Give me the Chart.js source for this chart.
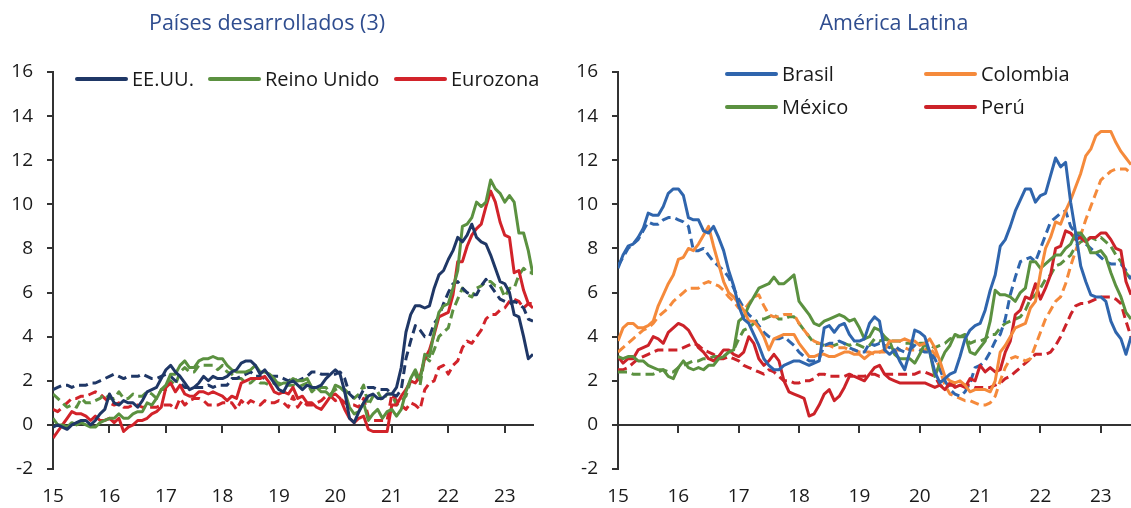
<!DOCTYPE html>
<html lang="es">
<head>
<meta charset="UTF-8">
<title>Inflación</title>
<script src="https://cdn.jsdelivr.net/npm/chart.js"></script>
<style>
  body { margin: 0; background: #fff; font-family: 'Open Sans', sans-serif; }
  #wrap { position: relative; width: 1131px; height: 508px; overflow: hidden; }
  canvas { position: absolute; top: 0; }
  .titulo { position: absolute; top: 7px; font-size: 21.5px; line-height: 30px; color: #2F4D8F; text-align: center; white-space: nowrap; }
  .ley { position: absolute; font-size: 20px; line-height: 24px; color: #1a1a1a; white-space: nowrap; }
  .ley i { position: absolute; height: 4px; border-radius: 2px; top: 10px; }
</style>
</head>
<body>
<div id="wrap">
  <canvas id="izq" width="565" height="508" style="left:0"></canvas>
  <canvas id="der" width="566" height="508" style="left:565px"></canvas>
  <div class="titulo" style="left:117px;width:300px">Países desarrollados (3)</div>
  <div class="titulo" style="left:794px;width:200px">América Latina</div>
</div>

<script>
// Jan 2015 .. Jul 2023, monthly, % y/y. Solid = headline, dashed = core
const yearLabels = ['15', '16', '17', '18', '19', '20', '21', '22', '23'];
const yearTicks = [0, 12, 24, 36, 48, 60, 72, 84, 96];
const valueTicks = [-2, 0, 2, 4, 6, 8, 10, 12, 14, 16];

const usTotal = [
  -0.1, 0.0, -0.1, -0.2, 0.0, 0.1, 0.2, 0.2, 0.0, 0.2, 0.5, 0.7,
  1.4, 1.0, 0.9, 1.1, 1.0, 1.0, 0.8, 1.1, 1.5, 1.6, 1.7, 2.1,
  2.5, 2.7, 2.4, 2.2, 1.9, 1.6, 1.7, 1.9, 2.2, 2.0, 2.2, 2.1,
  2.1, 2.2, 2.4, 2.5, 2.8, 2.9, 2.9, 2.7, 2.3, 2.5, 2.2, 1.9,
  1.6, 1.5, 1.9, 2.0, 1.8, 1.6, 1.8, 1.7, 1.7, 1.8, 2.1, 2.3,
  2.5, 2.3, 1.5, 0.3, 0.1, 0.6, 1.0, 1.3, 1.4, 1.2, 1.2, 1.4,
  1.4, 1.7, 2.6, 4.2, 5.0, 5.4, 5.4, 5.3, 5.4, 6.2, 6.8, 7.0,
  7.5, 7.9, 8.5, 8.3, 8.6, 9.1, 8.5, 8.3, 8.2, 7.7, 7.1, 6.5,
  6.4, 6.0, 5.0, 4.9, 4.0, 3.0, 3.2
];
const usCore = [
  1.6, 1.7, 1.8, 1.8, 1.7, 1.8, 1.8, 1.8, 1.9, 1.9, 2.0, 2.1,
  2.2, 2.3, 2.2, 2.1, 2.2, 2.2, 2.2, 2.3, 2.2, 2.1, 2.1, 2.2,
  2.3, 2.2, 2.0, 1.9, 1.7, 1.7, 1.7, 1.7, 1.7, 1.8, 1.7, 1.8,
  1.8, 1.8, 2.1, 2.1, 2.2, 2.3, 2.4, 2.2, 2.2, 2.1, 2.2, 2.2,
  2.2, 2.1, 2.0, 2.1, 2.0, 2.1, 2.2, 2.4, 2.4, 2.3, 2.3, 2.3,
  2.3, 2.4, 2.1, 1.4, 1.2, 1.2, 1.6, 1.7, 1.7, 1.6, 1.6, 1.6,
  1.4, 1.3, 1.6, 3.0, 3.8, 4.5, 4.3, 4.0, 4.0, 4.6, 4.9, 5.5,
  6.0, 6.4, 6.5, 6.2, 6.0, 5.9, 5.9, 6.3, 6.6, 6.3, 6.0, 5.7,
  5.6, 5.5, 5.6, 5.5, 5.3, 4.8, 4.7
];
const ukTotal = [
  0.3, 0.0, 0.0, -0.1, 0.1, 0.0, 0.1, 0.0, -0.1, -0.1, 0.1, 0.2,
  0.3, 0.3, 0.5, 0.3, 0.3, 0.5, 0.6, 0.6, 1.0, 0.9, 1.2, 1.6,
  1.8, 2.3, 2.3, 2.7, 2.9, 2.6, 2.6, 2.9, 3.0, 3.0, 3.1, 3.0,
  3.0, 2.7, 2.5, 2.4, 2.4, 2.4, 2.5, 2.7, 2.4, 2.4, 2.3, 2.1,
  1.8, 1.9, 1.9, 2.1, 2.0, 2.0, 2.1, 1.7, 1.7, 1.5, 1.5, 1.3,
  1.8, 1.7, 1.5, 0.8, 0.5, 0.6, 1.0, 0.2, 0.5, 0.7, 0.3, 0.6,
  0.7, 0.4, 0.7, 1.5, 2.1, 2.5, 2.0, 3.2, 3.1, 4.2, 5.1, 5.4,
  5.5, 6.2, 7.0, 9.0, 9.1, 9.4, 10.1, 9.9, 10.1, 11.1, 10.7, 10.5,
  10.1, 10.4, 10.1, 8.7, 8.7, 7.9, 6.8
];
const ukCore = [
  1.4, 1.2, 1.0, 0.8, 0.9, 0.8, 1.2, 1.0, 1.0, 1.1, 1.2, 1.4,
  1.2, 1.2, 1.5, 1.2, 1.2, 1.4, 1.3, 1.3, 1.5, 1.4, 1.2, 1.6,
  1.6, 2.0, 1.8, 2.4, 2.6, 2.4, 2.4, 2.7, 2.7, 2.7, 2.7, 2.5,
  2.7, 2.4, 2.3, 2.1, 2.1, 1.9, 1.9, 2.1, 1.9, 1.9, 1.8, 1.9,
  1.9, 1.8, 1.8, 1.8, 1.7, 1.8, 1.9, 1.5, 1.7, 1.7, 1.7, 1.4,
  1.6, 1.7, 1.6, 1.4, 1.2, 1.4, 1.8, 0.9, 1.3, 1.5, 1.1, 1.4,
  1.4, 0.9, 1.1, 1.3, 2.0, 2.3, 1.8, 3.1, 2.9, 3.4, 4.0, 4.2,
  4.4, 5.2, 5.7, 6.2, 5.9, 5.8, 6.2, 6.3, 6.5, 6.5, 6.3, 6.3,
  5.8, 6.2, 6.2, 6.8, 7.1, 6.9, 6.9
];
const ezTotal = [
  -0.6, -0.3, 0.0, 0.3, 0.6, 0.5, 0.5, 0.4, 0.2, 0.4, 0.2, 0.2,
  0.3, 0.1, 0.3, -0.3, -0.1, 0.0, 0.2, 0.2, 0.3, 0.5, 0.6, 0.8,
  1.7, 1.9, 1.5, 1.8, 1.4, 1.3, 1.3, 1.5, 1.5, 1.4, 1.5, 1.4,
  1.3, 1.1, 1.3, 1.2, 1.9, 2.0, 2.1, 2.1, 2.1, 2.2, 1.9, 1.5,
  1.4, 1.5, 1.4, 1.7, 1.2, 1.3, 1.0, 1.0, 0.8, 0.7, 1.0, 1.3,
  1.4, 1.2, 0.7, 0.3, 0.1, 0.3, 0.4, -0.2, -0.3, -0.3, -0.3, -0.3,
  0.9, 0.9, 1.3, 1.6, 2.0, 1.9, 2.2, 3.0, 3.4, 4.1, 4.9, 5.0,
  5.1, 5.9, 7.4, 7.4, 8.1, 8.6, 8.9, 9.1, 9.9, 10.6, 10.1, 9.2,
  8.6, 8.5, 6.9, 7.0, 6.1, 5.5, 5.3
];
const ezCore = [
  0.7, 0.6, 0.8, 1.0, 1.2, 1.2, 1.3, 1.3, 1.4, 1.5, 1.4, 1.2,
  1.0, 0.9, 1.0, 0.8, 0.8, 0.9, 0.9, 0.8, 0.8, 0.8, 0.8, 0.9,
  0.9, 0.9, 0.7, 1.2, 0.9, 1.1, 1.2, 1.2, 1.1, 0.9, 0.9, 0.9,
  1.0, 1.0, 1.0, 0.7, 1.1, 0.9, 1.1, 1.0, 0.9, 1.1, 1.0, 1.0,
  1.1, 1.0, 0.8, 1.3, 0.8, 1.1, 0.9, 0.9, 1.0, 1.1, 1.3, 1.3,
  1.1, 1.2, 1.0, 0.9, 0.9, 0.8, 1.2, 0.4, 0.2, 0.2, 0.2, 0.2,
  1.4, 1.1, 0.9, 0.7, 1.0, 0.9, 0.7, 1.6, 1.9, 2.0, 2.6, 2.7,
  2.3, 2.7, 2.9, 3.5, 3.8, 3.7, 4.0, 4.3, 4.8, 5.0, 5.0, 5.2,
  5.3, 5.6, 5.7, 5.6, 5.3, 5.5, 5.5
];

const brTotal = [
  7.1, 7.7, 8.1, 8.2, 8.5, 8.9, 9.6, 9.5, 9.5, 9.9, 10.5, 10.7,
  10.7, 10.4, 9.4, 9.3, 9.3, 8.8, 8.7, 9.0, 8.5, 7.9, 7.0, 6.3,
  5.4, 4.8, 4.6, 4.1, 3.6, 3.0, 2.7, 2.5, 2.5, 2.7, 2.8, 2.9,
  2.9, 2.8, 2.7, 2.8, 2.9, 4.4, 4.5, 4.2, 4.5, 4.6, 4.1, 3.8,
  3.8, 3.9, 4.6, 4.9, 4.7, 3.4, 3.2, 3.4, 2.9, 2.5, 3.3, 4.3,
  4.2, 4.0, 3.3, 2.4, 1.9, 2.1, 2.3, 2.4, 3.1, 3.9, 4.3, 4.5,
  4.6, 5.2, 6.1, 6.8, 8.1, 8.4, 9.0, 9.7, 10.2, 10.7, 10.7, 10.1,
  10.4, 10.5, 11.3, 12.1, 11.7, 11.9, 10.1, 8.7, 7.2, 6.5, 5.9, 5.8,
  5.8, 5.6, 4.7, 4.2, 3.9, 3.2, 4.0
];
const brCore = [
  7.2, 7.6, 8.0, 8.2, 8.4, 8.8, 9.2, 9.1, 9.1, 9.3, 9.4, 9.4,
  9.3, 9.2, 9.0, 7.9, 7.9, 8.0, 7.7, 7.4, 7.2, 7.0, 6.7, 6.2,
  5.7, 5.3, 5.0, 4.8, 4.5, 4.2, 4.0, 3.9, 3.9, 4.0, 3.8, 3.6,
  3.3, 3.1, 2.9, 2.9, 3.0, 3.6, 3.7, 3.7, 3.8, 3.7, 3.5, 3.4,
  3.3, 3.3, 3.7, 3.6, 3.7, 3.6, 3.5, 3.6, 3.4, 3.3, 3.4, 3.6,
  3.4, 3.3, 3.3, 3.0, 2.5, 2.0, 1.6, 1.4, 1.3, 1.5, 1.9, 2.6,
  2.7, 2.9, 3.3, 3.8, 4.1, 4.8, 5.9, 6.7, 7.4, 7.5, 7.6, 7.4,
  8.0, 8.6, 9.2, 9.4, 9.6, 9.7, 9.0, 8.7, 8.5, 8.2, 8.0, 7.8,
  7.6, 7.4, 7.3, 7.3, 7.3, 7.0, 6.6
];
const coTotal = [
  3.8, 4.4, 4.6, 4.6, 4.4, 4.4, 4.5, 4.7, 5.4, 5.9, 6.4, 6.8,
  7.5, 7.6, 8.0, 7.9, 8.2, 8.6, 9.0, 8.1, 7.3, 6.5, 6.0, 5.8,
  5.5, 5.2, 4.7, 4.7, 4.4, 4.0, 3.4, 3.9, 4.0, 4.1, 4.1, 4.1,
  3.7, 3.4, 3.1, 3.1, 3.2, 3.2, 3.1, 3.1, 3.2, 3.3, 3.3, 3.2,
  3.2, 3.0, 3.2, 3.3, 3.3, 3.4, 3.8, 3.8, 3.8, 3.9, 3.8, 3.8,
  3.6, 3.7, 3.9, 3.5, 2.9, 2.2, 2.0, 1.9, 2.0, 1.8, 1.5, 1.6,
  1.6, 1.6, 1.5, 2.0, 3.3, 3.6, 4.0, 4.4, 4.5, 4.6, 5.3, 5.6,
  6.9, 8.0, 8.5, 9.2, 9.1, 9.7, 10.2, 10.8, 11.4, 12.2, 12.5, 13.1,
  13.3, 13.3, 13.3, 12.8, 12.4, 12.1, 11.8
];
const coCore = [
  3.3, 3.5, 3.7, 3.9, 4.1, 4.3, 4.4, 4.6, 4.9, 5.1, 5.3, 5.6,
  5.8, 6.0, 6.2, 6.2, 6.2, 6.4, 6.5, 6.4, 6.3, 6.1, 5.8, 5.6,
  5.3, 5.2, 5.5, 5.8, 5.9, 5.4, 5.0, 4.9, 4.9, 5.0, 5.0, 5.0,
  4.6, 4.3, 4.0, 3.8, 3.7, 3.6, 3.6, 3.5, 3.5, 3.5, 3.4, 3.4,
  3.3, 3.3, 3.3, 3.2, 3.3, 3.3, 3.4, 3.4, 3.4, 3.5, 3.4, 3.4,
  3.4, 3.4, 3.5, 3.2, 2.5, 1.8, 1.4, 1.3, 1.2, 1.1, 1.1, 1.0,
  0.9, 0.9, 1.0, 1.3, 2.0, 2.6, 3.0, 3.1, 3.0, 2.9, 3.0, 3.6,
  4.2, 4.8, 5.2, 5.6, 5.8, 6.4, 7.2, 7.9, 8.6, 9.3, 9.9, 10.5,
  11.1, 11.3, 11.5, 11.6, 11.6, 11.6, 11.4
];
const mxTotal = [
  3.1, 3.0, 3.1, 3.1, 2.9, 2.9, 2.7, 2.6, 2.5, 2.5, 2.2, 2.1,
  2.6, 2.9, 2.6, 2.5, 2.6, 2.5, 2.7, 2.7, 3.0, 3.1, 3.3, 3.4,
  4.7, 4.9, 5.4, 5.8, 6.2, 6.3, 6.4, 6.7, 6.4, 6.4, 6.6, 6.8,
  5.6, 5.3, 5.0, 4.6, 4.5, 4.7, 4.8, 4.9, 5.0, 4.9, 4.7, 4.8,
  4.4, 3.9, 4.0, 4.4, 4.3, 4.0, 3.8, 3.2, 3.0, 3.0, 3.0, 2.8,
  3.2, 3.7, 3.3, 2.2, 2.8, 3.3, 3.6, 4.1, 4.0, 4.1, 3.3, 3.2,
  3.5, 3.8, 4.7, 6.1, 5.9, 5.9, 5.8, 5.6, 6.0, 6.2, 7.4, 7.4,
  7.1, 7.3, 7.5, 7.7, 7.7, 8.0, 8.2, 8.7, 8.7, 8.4, 7.8, 7.8,
  7.9, 7.6, 6.9, 6.3, 5.8, 5.1, 4.8
];
const mxCore = [
  2.4, 2.4, 2.4, 2.3, 2.3, 2.3, 2.3, 2.3, 2.4, 2.5, 2.4, 2.4,
  2.6, 2.7, 2.8, 2.9, 2.9, 3.0, 3.0, 3.1, 3.1, 3.1, 3.3, 3.4,
  3.9, 4.3, 4.4, 4.6, 4.8, 4.8, 4.9, 5.0, 4.8, 4.8, 4.9, 4.9,
  4.6, 4.3, 4.0, 3.7, 3.7, 3.6, 3.6, 3.6, 3.7, 3.7, 3.6, 3.7,
  3.6, 3.5, 3.6, 3.9, 3.8, 3.9, 3.8, 3.8, 3.8, 3.7, 3.7, 3.6,
  3.7, 3.7, 3.6, 3.5, 3.6, 3.7, 3.9, 4.0, 4.0, 4.0, 3.7, 3.8,
  3.8, 3.9, 4.1, 4.1, 4.4, 4.6, 4.7, 4.8, 4.9, 5.2, 5.7, 5.9,
  6.2, 6.6, 6.8, 7.2, 7.3, 7.5, 7.7, 8.1, 8.3, 8.4, 8.5, 8.4,
  8.5, 8.3, 8.1, 7.7, 7.4, 6.9, 6.6
];
const peTotal = [
  3.1, 2.8, 3.0, 3.0, 3.4, 3.5, 3.6, 4.0, 3.9, 3.7, 4.2, 4.4,
  4.6, 4.5, 4.3, 3.9, 3.5, 3.3, 3.0, 2.9, 3.1, 3.4, 3.4, 3.2,
  3.1, 3.3, 4.0, 3.7, 3.0, 2.7, 2.9, 3.2, 2.9, 2.0, 1.5, 1.4,
  1.3, 1.2, 0.4, 0.5, 0.9, 1.4, 1.6, 1.1, 1.3, 1.7, 2.2, 2.2,
  2.1, 2.0, 2.3, 2.6, 2.7, 2.3, 2.1, 2.0, 1.9, 1.9, 1.9, 1.9,
  1.9, 1.9, 1.8, 1.7, 1.8, 1.6, 1.9, 1.7, 1.8, 1.7, 2.1, 2.0,
  2.7, 2.4, 2.6, 2.4, 2.5, 3.3, 3.8, 5.0, 5.2, 5.8, 5.7, 6.4,
  5.7, 6.2, 6.8, 8.0, 8.1, 8.8, 8.7, 8.4, 8.5, 8.3, 8.5, 8.5,
  8.7, 8.7, 8.4, 8.0, 7.9, 6.5, 5.9
];
const peCore = [
  2.5, 2.5, 2.6, 2.8, 3.0, 3.1, 3.2, 3.3, 3.4, 3.4, 3.4, 3.4,
  3.4, 3.5, 3.6, 3.7, 3.6, 3.4, 3.3, 3.2, 3.0, 3.0, 3.1, 3.0,
  2.9, 2.7, 2.6, 2.5, 2.4, 2.3, 2.5, 2.4, 2.2, 2.0, 2.0, 1.9,
  1.9, 2.0, 2.0, 2.1, 2.3, 2.3, 2.2, 2.2, 2.2, 2.2, 2.3, 2.2,
  2.2, 2.2, 2.3, 2.3, 2.2, 2.3, 2.3, 2.3, 2.3, 2.3, 2.3, 2.3,
  2.4, 2.4, 2.3, 2.2, 1.8, 1.7, 1.8, 1.8, 1.8, 1.8, 1.8, 1.7,
  1.7, 1.7, 1.7, 1.8, 1.9, 2.1, 2.2, 2.4, 2.6, 2.8, 3.0, 3.2,
  3.2, 3.2, 3.3, 3.6, 4.0, 4.5, 5.0, 5.4, 5.5, 5.5, 5.6, 5.7,
  5.8, 5.8, 5.8, 5.7, 5.5, 4.7, 4.0
];

const colores = {
  eeuu: '#1F3766', reino: '#5B9140', euro: '#D2232A',
  brasil: '#2F65AD', colombia: '#F58A3B', mexico: '#5B9140', peru: '#CC2229',
  eje: '#333333'
};

const meses = usTotal.map((v, i) => i);

Chart.defaults.font.family = "'Open Sans', sans-serif";
Chart.defaults.font.size = 19;
Chart.defaults.color = '#1a1a1a';

function linea(datos, color, dash) {
  return {
    data: datos,
    borderColor: color,
    borderWidth: 3,
    borderDash: dash ? [9, 5] : [],
    pointRadius: 0,
    tension: 0,
    borderJoinStyle: 'round',
    fill: false
  };
}

function ponerTicks(s) {
  s.ticks = yearTicks.map(v => ({ value: v }));
}

// ejes con la rejilla de Chart.js: solo la línea del cero (y) y la del primer mes (x)
function opciones(derecha) {
  return {
    responsive: false,
    animation: false,
    layout: { autoPadding: false, padding: { top: 72, right: derecha, left: 0, bottom: 0 } },
    plugins: { legend: { display: false }, tooltip: { enabled: false } },
    scales: {
      y: {
        min: -2, max: 16,
        ticks: { stepSize: 2, padding: 14 },
        grid: {
          drawOnChartArea: true,
          drawTicks: true,
          tickLength: 6,
          lineWidth: 2,
          color: (c) => (c.tick && c.tick.value === 0 ? colores.eje : 'rgba(0,0,0,0)'),
          tickColor: colores.eje,
          tickWidth: 2
        },
        border: { display: true, color: colores.eje, width: 2 },
        afterFit(s) { s.width = 53; }
      },
      x: {
        type: 'linear', min: 0, max: meses.length - 1,
        afterBuildTicks: ponerTicks,
        ticks: { padding: 16, maxRotation: 0, autoSkip: false,
          callback: (v) => yearLabels[yearTicks.indexOf(v)] },
        grid: { display: false, drawTicks: false },
        border: { display: false },
        afterFit(s) { s.height = 39; }
      },
      cero: {
        type: 'linear', axis: 'x', position: { y: 0 },
        min: 0, max: meses.length - 1,
        afterBuildTicks: ponerTicks,
        ticks: { display: false },
        grid: { drawOnChartArea: false, drawTicks: true, tickLength: 7,
          tickColor: colores.eje, tickWidth: 2, color: colores.eje, lineWidth: 2 },
        border: { display: true, color: colores.eje, width: 2 }
      }
    }
  };
}

new Chart(document.getElementById('izq'), {
  type: 'line',
  data: {
    labels: meses,
    datasets: [
      linea(usTotal, colores.eeuu, false),
      linea(ukTotal, colores.reino, false),
      linea(ezTotal, colores.euro, false),
      linea(usCore, colores.eeuu, true),
      linea(ukCore, colores.reino, true),
      linea(ezCore, colores.euro, true)
    ]
  },
  options: opciones(32)
});

new Chart(document.getElementById('der'), {
  type: 'line',
  data: {
    labels: meses,
    datasets: [
      linea(brTotal, colores.brasil, false),
      linea(coTotal, colores.colombia, false),
      linea(mxTotal, colores.mexico, false),
      linea(peTotal, colores.peru, false),
      linea(brCore, colores.brasil, true),
      linea(coCore, colores.colombia, true),
      linea(mxCore, colores.mexico, true),
      linea(peCore, colores.peru, true)
    ]
  },
  options: opciones(0)
});

// leyendas (solo series totales)
const leyendas = [
  { nombre: 'EE.UU.', color: colores.eeuu, x: 75, y: 79 },
  { nombre: 'Reino Unido', color: colores.reino, x: 208, y: 79 },
  { nombre: 'Eurozona', color: colores.euro, x: 394, y: 79 },
  { nombre: 'Brasil', color: colores.brasil, x: 725, y: 74 },
  { nombre: 'Colombia', color: colores.colombia, x: 924, y: 74 },
  { nombre: 'México', color: colores.mexico, x: 725, y: 107 },
  { nombre: 'Perú', color: colores.peru, x: 924, y: 107 }
];
const wrap = document.getElementById('wrap');
leyendas.forEach(l => {
  const d = document.createElement('div');
  d.className = 'ley';
  d.style.left = l.x + 'px';
  d.style.top = (l.y - 12) + 'px';
  d.style.paddingLeft = '57px';
  d.innerHTML = `<i style="left:0;width:53px;background:${l.color}"></i>${l.nombre}`;
  wrap.appendChild(d);
});
</script>
</body>
</html>
